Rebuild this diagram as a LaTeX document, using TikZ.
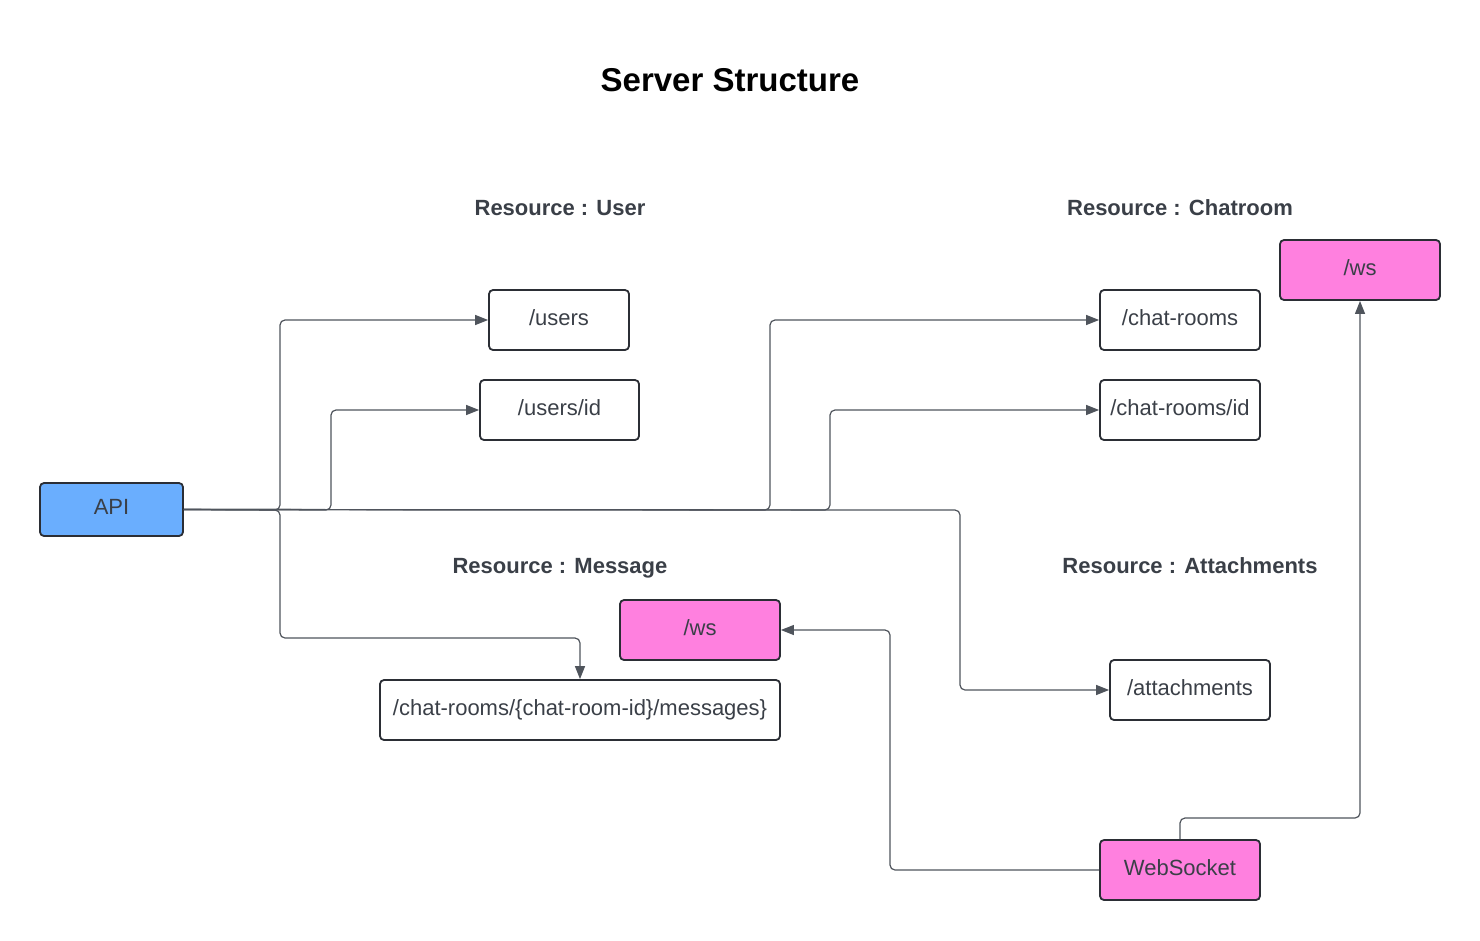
\documentclass[tikz,border=0pt]{standalone}
\usepackage{fontspec}
\setmainfont{Liberation Sans}
\usetikzlibrary{arrows.meta}
\definecolor{boxline}{HTML}{2B2E35}
\definecolor{linegray}{HTML}{4F545C}
\definecolor{txt}{HTML}{3A3F47}
\definecolor{apiblue}{HTML}{6AAEFE}
\definecolor{wspink}{HTML}{FF80DF}

\begin{document}
\begin{tikzpicture}[x=1pt,y=-1pt,
    res/.style={draw=boxline,line width=1.8pt,rounded corners=4pt,minimum height=60pt,
                inner sep=0pt,text height=16pt,text depth=6pt,text=txt,
                font=\fontsize{22}{26}\selectfont},
    wsbox/.style={res,fill=wspink},
    head/.style={text=txt,font=\fontsize{22}{26}\selectfont\bfseries},
    link/.style={draw=linegray,line width=1.2pt,rounded corners=5pt,
                 -{Triangle[length=13pt,width=10pt]}}]

        \useasboundingbox (0,0) rectangle (1480,940);

        \node[font=\fontsize{33}{40}\selectfont\bfseries] (TTL) at (730,80) {Server Structure};

        \node[head] (HUSR) at (560,208) {Resource : User};
        \node[head] (HCHR) at (1180,208) {Resource : Chatroom};
        \node[head] (HMSG) at (560,568) {Resource : Message};
        \node[head] (HATT) at (1190,566) {Resource : Attachments};

        \node[res,fill=apiblue,minimum width=143pt,minimum height=53pt] (API) at (111.5,509.5) {API};
        \node[res,minimum width=140pt] (USR)   at (559,320)    {/users};
        \node[res,minimum width=159pt] (USRID) at (559.5,410)  {/users/id};
        \node[res,minimum width=160pt] (CHR)   at (1180,320)   {/chat-rooms};
        \node[res,minimum width=160pt] (CHRID) at (1180,410)   {/chat-rooms/id};
        \node[wsbox,minimum width=160pt] (WSC) at (1360,270)   {/ws};
        \node[wsbox,minimum width=160pt] (WSM) at (700,630)    {/ws};
        \node[res,minimum width=400pt] (MSG)   at (580,710)    {/chat-rooms/\{chat-room-id\}/messages\}};
        \node[res,minimum width=160pt] (ATT)   at (1190,690)   {/attachments};
        \node[wsbox,minimum width=160pt] (WEB) at (1180,870)   {WebSocket};

        % branch points on the API line
        \coordinate (J01) at (280,510);
        \coordinate (J02) at (331,510);
        \coordinate (J03) at (770,510);
        \coordinate (J04) at (830,510);
        \coordinate (J05) at (960,510);
        \coordinate (M01) at (280,638);
        \coordinate (W01) at (1180,818);

        \draw[link] (API.east) -- (J01) |- (USR.west);
        \draw[link] (API.east) -- (J02) |- (USRID.west);
        \draw[link] (API.east) -- (J03) |- (CHR.west);
        \draw[link] (API.east) -- (J04) |- (CHRID.west);
        \draw[link] (API.east) -- (J05) |- (ATT.west);
        \draw[link] (API.east) -- (J01) -- (M01) -| (MSG.north);

        \draw[link] (WEB.west) -| (890,630) -- (WSM.east);
        \draw[link] (WEB.north) -- (W01) -| (WSC.south);
      \end{tikzpicture}
\end{document}
